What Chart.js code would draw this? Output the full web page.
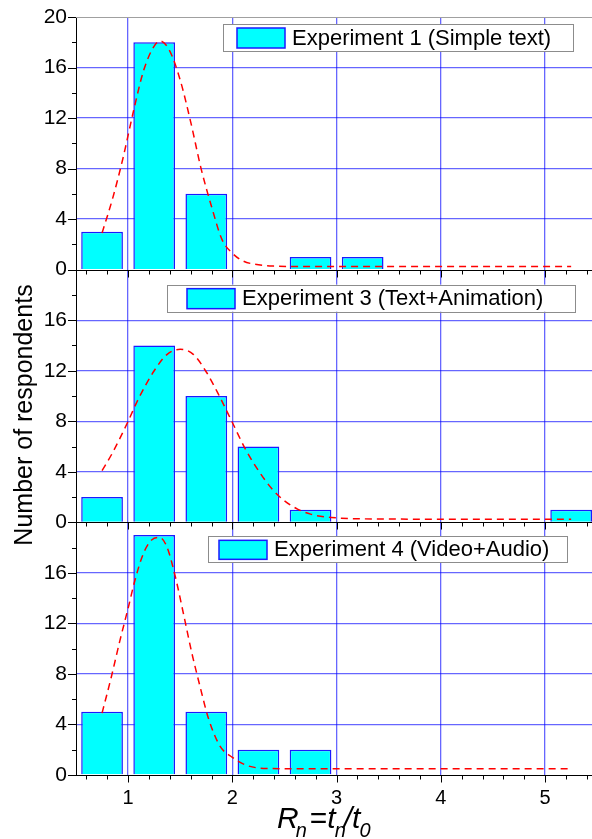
<!DOCTYPE html>
<html>
<head>
<meta charset="utf-8">
<script src="https://cdn.jsdelivr.net/npm/chart.js@4.4.1/dist/chart.umd.min.js"></script>
<style>
  html, body { margin: 0; padding: 0; background: #fff; }
  #wrap { width: 592px; height: 839px; }
</style>
</head>
<body>
<div id="wrap"><canvas id="chart" width="592" height="839"></canvas></div>
<script>
// Histogram bins (R_n bin centres) and respondent counts per experiment
const BIN_CENTERS = [0.75, 1.25, 1.75, 2.25, 2.75, 3.25, 3.75, 4.25, 4.75, 5.25];
const EXP1_COUNTS = [3, 18, 6, 0, 1, 1, 0, 0, 0, 0];
const EXP3_COUNTS = [2, 14, 10, 6, 1, 0, 0, 0, 0, 1];
const EXP4_COUNTS = [5, 19, 5, 2, 2, 0, 0, 0, 0, 0];

// Fitted curves (red dashed)
const FIT1_X = [0.75, 0.85, 0.95, 1.05, 1.15, 1.25, 1.31, 1.4, 1.5, 1.6, 1.7, 1.8, 1.9, 2.0, 2.1, 2.2, 2.4, 2.6, 3.0, 4.0, 5.25];
const FIT1_Y = [2.9, 5.6, 8.8, 12.5, 15.8, 17.7, 18.1, 17.3, 15.0, 11.7, 8.0, 5.0, 2.4, 1.3, 0.7, 0.45, 0.28, 0.25, 0.25, 0.25, 0.25];
const FIT3_X = [0.75, 0.85, 1.0, 1.1, 1.25, 1.375, 1.5, 1.625, 1.75, 1.875, 2.0, 2.125, 2.25, 2.375, 2.5, 2.625, 2.75, 2.95, 3.5, 4.0, 5.25];
const FIT3_Y = [4.1, 5.5, 8.0, 9.8, 12.0, 13.3, 13.7, 13.3, 11.9, 10.0, 7.9, 5.8, 4.1, 2.7, 1.7, 1.05, 0.65, 0.38, 0.26, 0.25, 0.25];
const FIT4_X = [0.75, 0.84, 0.92, 1.0, 1.065, 1.145, 1.225, 1.3, 1.37, 1.45, 1.53, 1.61, 1.69, 1.77, 1.88, 2.0, 2.14, 2.33, 2.6, 3.0, 4.0, 5.25];
const FIT4_Y = [4.9, 7.8, 10.6, 13.2, 15.4, 17.5, 18.6, 18.8, 18.1, 15.8, 12.8, 9.7, 7.0, 4.5, 2.3, 1.4, 0.75, 0.52, 0.5, 0.5, 0.5, 0.5];

const SERIES_LABELS = ['Experiment 1 (Simple text)', 'Experiment 3 (Text+Animation)', 'Experiment 4 (Video+Audio)'];
const X_TICKS = [1, 2, 3, 4, 5];
const Y_TICKS_TOP = [0, 4, 8, 12, 16, 20];
const Y_TICKS = [0, 4, 8, 12, 16];

const FONT = '"Liberation Sans", Arial, sans-serif';
const GRID_BLUE = 'rgba(0,0,255,0.6)';
const CYAN = '#00ffff';
const BAR_EDGE = '#1a1aff';

// legend box placement, relative to chart left / panel top
const LEGEND_BOXES = [
  { dx: 147, dy: 7, w: 350, h: 27, sw: 14 },
  { dx: 91, dy: 15, w: 408, h: 27, sw: 20 },
  { dx: 132, dy: 14, w: 359, h: 26, sw: 11 },
];

const PANELS = [
  { axis: 'yTop', label: SERIES_LABELS[0], counts: EXP1_COUNTS, fitX: FIT1_X, fitY: FIT1_Y, ticks: Y_TICKS_TOP },
  { axis: 'yMid', label: SERIES_LABELS[1], counts: EXP3_COUNTS, fitX: FIT3_X, fitY: FIT3_Y, ticks: Y_TICKS },
  { axis: 'yBot', label: SERIES_LABELS[2], counts: EXP4_COUNTS, fitX: FIT4_X, fitY: FIT4_Y, ticks: Y_TICKS },
];

const datasets = [];
PANELS.forEach(p => {
  datasets.push({
    type: 'bar',
    label: p.label,
    yAxisID: p.axis,
    data: BIN_CENTERS.map((x, i) => ({ x, y: p.counts[i] || null })),
    backgroundColor: CYAN,
    borderColor: BAR_EDGE,
    borderWidth: 1.5,
    grouped: false,
    barPercentage: 1,
    categoryPercentage: 0.8,
    order: 2,
  });
  datasets.push({
    type: 'line',
    label: p.label + ' fit',
    yAxisID: p.axis,
    data: p.fitX.map((x, i) => ({ x, y: p.fitY[i] })),
    borderColor: '#ff0000',
    borderWidth: 1.5,
    borderDash: [7, 5],
    pointRadius: 0,
    fill: false,
    cubicInterpolationMode: 'monotone',
    order: 1,
  });
});

const scales = {
  x: {
    type: 'linear',
    min: 0.5,
    max: 5.45,
    offset: false,
    afterBuildTicks: s => { s.ticks = X_TICKS.map(v => ({ value: v })); },
    afterFit: s => { s.height = 64; },
    ticks: { color: '#000', font: { family: FONT, size: 20 }, padding: 11, autoSkip: false },
    grid: { color: GRID_BLUE, lineWidth: 1.3, drawTicks: false, offset: false },
    border: { color: '#000', width: 1 },
  },
};
// last defined left axis ends up on top of the stack
[...PANELS].reverse().forEach(p => {
  scales[p.axis] = {
    type: 'linear',
    position: 'left',
    stack: 'panels',
    stackWeight: 1,
    min: 0,
    max: 20,
    offset: false,
    afterBuildTicks: s => { s.ticks = p.ticks.map(v => ({ value: v })); },
    afterFit: s => { s.width = 76; s.paddingTop = 0; s.paddingBottom = 0; },
    ticks: { color: '#000', font: { family: FONT, size: 21 }, padding: 9, autoSkip: false },
    grid: {
      drawTicks: false,
      lineWidth: 1.3,
      color: c => (c.tick && (c.tick.value === 0 || c.tick.value === 20)) ? 'rgba(0,0,0,0)' : GRID_BLUE,
    },
    border: { color: '#000', width: 1 },
  };
});

// panel axes, tick marks, top border and legend boxes
const panelFrame = {
  id: 'panelFrame',
  afterDatasetsDraw(chart) {
    const { ctx, chartArea: a, scales: sc } = chart;
    const xs = sc.x;
    ctx.save();
    ctx.strokeStyle = '#a0a0a0';
    ctx.lineWidth = 1;
    ctx.beginPath();
    ctx.moveTo(a.left, a.top + 0.5);
    ctx.lineTo(a.right, a.top + 0.5);
    ctx.stroke();

    ctx.strokeStyle = '#000';
    PANELS.forEach((p, k) => {
      const ys = sc[p.axis];
      const y0 = Math.round(ys.getPixelForValue(0)) + 0.5;
      ctx.beginPath();
      ctx.moveTo(a.left, y0);
      ctx.lineTo(a.right, y0);
      for (let i = 6; i <= 54; i += 2) {
        const v = i / 10;
        const px = Math.round(xs.getPixelForValue(v)) + 0.5;
        const len = i % 10 === 0 ? 7 : 4;
        ctx.moveTo(px, y0);
        ctx.lineTo(px, y0 + len);
      }
      for (let v = 0; v <= 20; v += 2) {
        const py = Math.round(ys.getPixelForValue(v)) + 0.5;
        const len = v % 4 === 0 ? 8 : 4;
        ctx.moveTo(a.left, py);
        ctx.lineTo(a.left - len, py);
      }
      ctx.stroke();

      // legend box
      const L = LEGEND_BOXES[k];
      const top = ys.top;
      const bx = a.left + L.dx, by = top + L.dy;
      ctx.fillStyle = '#fff';
      ctx.fillRect(bx, by, L.w, L.h);
      ctx.strokeStyle = '#8c8c8c';
      ctx.lineWidth = 1;
      ctx.strokeRect(Math.round(bx) + 0.5, Math.round(by) + 0.5, L.w, L.h);
      ctx.fillStyle = CYAN;
      ctx.strokeStyle = BAR_EDGE;
      ctx.lineWidth = 1.5;
      ctx.fillRect(bx + L.sw, by + 4, 48, L.h - 7);
      ctx.strokeRect(bx + L.sw, by + 4, 48, L.h - 7);
      ctx.fillStyle = '#000';
      ctx.font = '22px ' + FONT;
      ctx.textBaseline = 'middle';
      ctx.textAlign = 'left';
      ctx.fillText(p.label, bx + L.sw + 55, by + L.h / 2 + 1);
      ctx.strokeStyle = '#000';
      ctx.lineWidth = 1;
    });
    ctx.restore();
  },
  afterDraw(chart) {
    const { ctx, chartArea: a } = chart;
    ctx.save();
    ctx.fillStyle = '#000';
    ctx.font = '25px ' + FONT;
    ctx.translate(32, (a.top + a.bottom) / 2 + 19);
    ctx.rotate(-Math.PI / 2);
    ctx.textAlign = 'center';
    ctx.textBaseline = 'alphabetic';
    ctx.fillText('Number of respondents', 0, 0);
    ctx.restore();

    // R_n = t_n / t_0
    const parts = [
      ['R', 30, 0, true, 0], ['n', 20, 9, true, -3], ['=', 30, 0, false, 3],
      ['t', 30, 0, true, 0], ['n', 20, 9, true, -1], ['/', 30, 0, true, -2],
      ['t', 30, 0, true, 0], ['0', 20, 9, true, -1],
    ];
    ctx.save();
    ctx.fillStyle = '#000';
    ctx.textBaseline = 'alphabetic';
    ctx.textAlign = 'left';
    let x = 277;
    const base = 828;
    parts.forEach(([t, size, dy, it, dx]) => {
      ctx.font = (it ? 'italic ' : '') + size + 'px ' + FONT;
      x += dx;
      ctx.fillText(t, x, base + dy);
      x += ctx.measureText(t).width;
    });
    ctx.restore();
  },
};

new Chart(document.getElementById('chart'), {
  type: 'bar',
  data: { datasets },
  options: {
    responsive: false,
    animation: false,
    layout: { padding: { top: 17, right: 0, left: 0, bottom: 0 } },
    plugins: { legend: { display: false }, tooltip: { enabled: false } },
    scales,
  },
  plugins: [panelFrame],
});
</script>
</body>
</html>
